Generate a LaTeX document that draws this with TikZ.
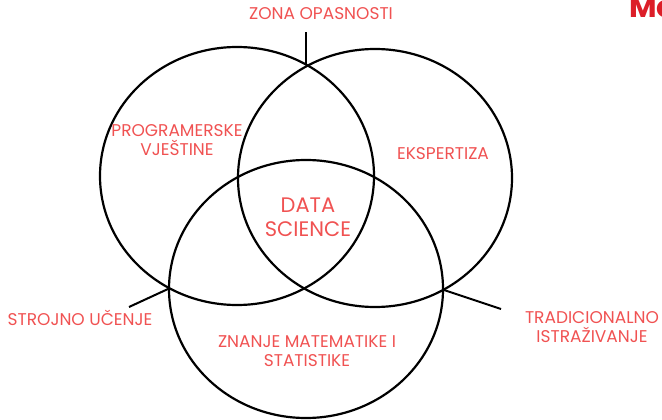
\documentclass[tikz,border=0pt]{standalone}
\usepackage{fontspec}
\setmainfont{Poppins}
\usetikzlibrary{shapes.geometric}
\definecolor{lbl}{RGB}{240,82,82}
\definecolor{logo}{RGB}{220,30,40}
\tikzset{
  venn/.style={draw=black, line width=2.2pt, ellipse, inner sep=0pt,
    minimum width=274pt, minimum height=258pt},
  lab/.style={text=lbl, font=\fontsize{17}{19}\selectfont, align=center, inner sep=0pt},
  big/.style={text=lbl, font=\fontsize{21}{24}\selectfont, align=center, inner sep=0pt},
  conn/.style={draw=black, line width=2pt}
}
\begin{document}
\begin{tikzpicture}[x=1pt,y=-1pt]
\useasboundingbox (0,0) rectangle (662,420);
\node[venn] (L) at (237,176) {};
\node[venn] (R) at (375,178) {};
\node[venn] (B) at (306,289) {};
\coordinate (zi) at (306,65);
\coordinate (ze) at (306,32);
\coordinate (si) at (168,289);
\coordinate (se) at (129,307);
\coordinate (ti) at (444,290);
\coordinate (te) at (501,309);
\draw[conn] (zi) -- (ze);
\draw[conn] (si) -- (se);
\draw[conn] (ti) -- (te);
\node[lab] (zona) at (321,14) {ZONA OPASNOSTI};
\node[lab] (prog) at (177,140) {PROGRAMERSKE\\VJEŠTINE};
\node[lab] (eksp) at (443,154) {EKSPERTIZA};
\node[big] (ds) at (308,217) {DATA\\SCIENCE};
\node[lab] (stroj) at (80,318) {STROJNO UČENJE};
\node[lab] (znanje) at (307,351) {ZNANJE MATEMATIKE I\\STATISTIKE};
\node[lab] (trad) at (592,327) {TRADICIONALNO\\ISTRAŽIVANJE};
\node[anchor=base west, text=logo, font=\fontsize{30}{30}\selectfont\bfseries, inner sep=0pt] (logo) at (629,18) {Mo};
\end{tikzpicture}
\end{document}
